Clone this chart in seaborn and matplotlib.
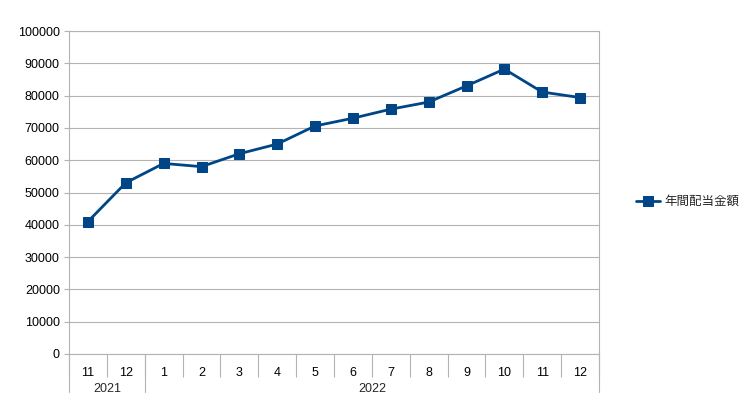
import numpy as np
import pandas as pd
import seaborn as sns
import matplotlib.pyplot as plt

sns.set_theme(style='white')
plt.rcParams['font.family'] = ['Liberation Sans', 'Noto Sans CJK JP', 'DejaVu Sans']

# data
months = ['11', '12', '1', '2', '3', '4', '5', '6', '7', '8', '9', '10', '11', '12']
years = ['2021', '2021'] + ['2022'] * 12
dividends = [41000, 53000, 59000, 58000, 62000, 65000, 70600,
             73000, 75800, 78000, 83000, 88200, 81100, 79400]
series_name = '年間配当金額'
y_ticks = list(range(0, 100001, 10000))

grid_gray = '#b3b3b3'
navy = '#004586'

df = pd.DataFrame({'pos': np.arange(len(months)), 'month': months,
                   'year': years, series_name: dividends})
n = len(df)

fig = plt.figure(figsize=(7.48, 4.05), dpi=100)
ax = fig.add_axes([69 / 748, 51 / 405, 530 / 748, 323 / 405])

sns.lineplot(data=df, x='pos', y=series_name, marker='s', color=navy,
             linewidth=2, markersize=7.5, markeredgecolor=navy,
             label=series_name, ax=ax)

ax.set_xlim(-0.5, n - 0.5)
ax.set_ylim(0, 100000)
ax.set_yticks(y_ticks)
ax.set_xlabel('')
ax.set_ylabel('')

# horizontal grid + gray frame
ax.yaxis.grid(True, color=grid_gray, linewidth=0.8)
ax.set_axisbelow(True)
for sp in ax.spines.values():
    sp.set_color(grid_gray)
    sp.set_linewidth(0.8)

ax.tick_params(axis='y', left=True, length=3.6, width=0.8, color=grid_gray,
               pad=3, labelsize=9, labelcolor='black')

# month labels, separators between categories
ax.set_xticks(df.pos, df.month)
ax.tick_params(axis='x', which='major', length=0, pad=9.5, labelsize=9, labelcolor='black')
ax.set_xticks(np.arange(-0.5, n), minor=True)
ax.tick_params(axis='x', which='minor', bottom=True, length=16.5, width=0.8, color=grid_gray)

# year level: longer separators and centred labels
trans = ax.get_xaxis_transform()
bounds = [0] + [i for i in range(1, n) if years[i] != years[i - 1]] + [n]
for b in bounds:
    ax.plot([b - 0.5, b - 0.5], [0, -38 / 323], transform=trans, clip_on=False,
            color=grid_gray, linewidth=0.8)
for a, b in zip(bounds[:-1], bounds[1:]):
    ax.text((a + b - 1) / 2, -35 / 323, years[a], transform=trans,
            ha='center', va='center', fontsize=9)

ax.legend(loc='center left', bbox_to_anchor=(636 / 748, 203 / 405),
          bbox_transform=fig.transFigure, frameon=False, fontsize=9,
          handlelength=1.9, handletextpad=0.4, borderpad=0, borderaxespad=0)

fig.savefig('out.png', dpi=100, facecolor='white')
